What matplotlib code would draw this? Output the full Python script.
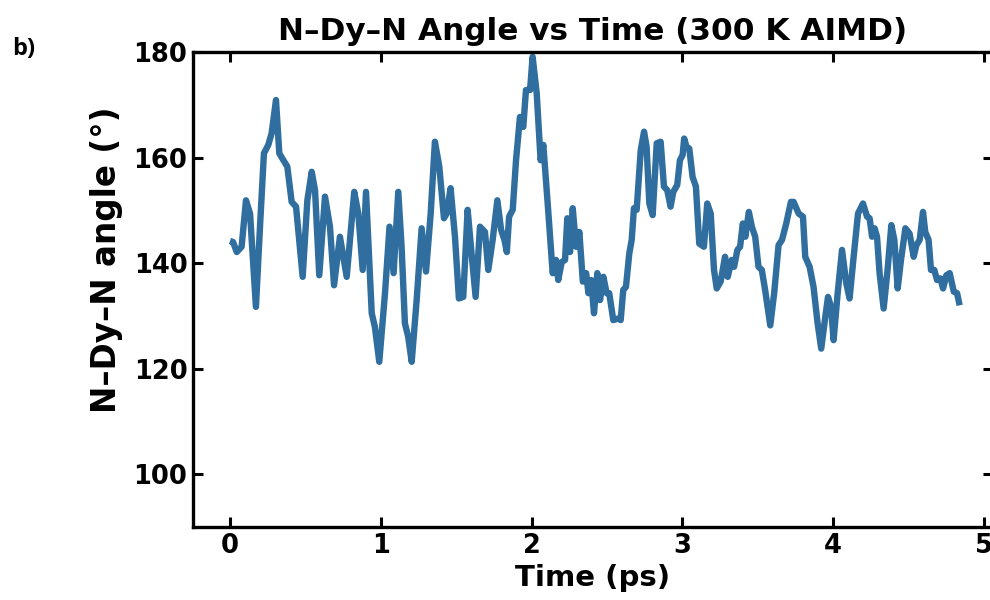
import numpy as np
import matplotlib as mpl
mpl.use('Agg')
import matplotlib.pyplot as plt

# N-Dy-N angle trajectory
time_ps = [0.000, 0.020, 0.045, 0.077, 0.106, 0.133, 0.172, 0.199, 0.225, 0.254,
           0.276, 0.305, 0.327, 0.354, 0.380, 0.409, 0.438, 0.482, 0.513, 0.542,
           0.564, 0.592, 0.630, 0.663, 0.690, 0.729, 0.774, 0.824, 0.851, 0.880,
           0.902, 0.940, 0.961, 0.990, 1.028, 1.058, 1.085, 1.116, 1.138, 1.160,
           1.182, 1.205, 1.238, 1.271, 1.300, 1.331, 1.359, 1.388, 1.419, 1.437,
           1.463, 1.492, 1.518, 1.547, 1.576, 1.602, 1.629, 1.658, 1.691, 1.713,
           1.742, 1.773, 1.798, 1.820, 1.836, 1.851, 1.875, 1.897, 1.923, 1.945,
           1.963, 1.990, 2.007, 2.034, 2.060, 2.078, 2.111, 2.140, 2.162, 2.177,
           2.200, 2.222, 2.237, 2.255, 2.273, 2.295, 2.317, 2.340, 2.362, 2.377,
           2.395, 2.414, 2.436, 2.454, 2.476, 2.498, 2.515, 2.542, 2.575, 2.591,
           2.608, 2.626, 2.648, 2.664, 2.679, 2.697, 2.724, 2.746, 2.763, 2.781,
           2.803, 2.830, 2.856, 2.878, 2.900, 2.922, 2.940, 2.966, 2.984, 3.002,
           3.012, 3.028, 3.046, 3.068, 3.090, 3.112, 3.143, 3.165, 3.188, 3.210,
           3.228, 3.254, 3.283, 3.301, 3.327, 3.343, 3.365, 3.383, 3.401, 3.418,
           3.441, 3.461, 3.483, 3.505, 3.527, 3.549, 3.583, 3.609, 3.638, 3.661,
           3.689, 3.720, 3.738, 3.771, 3.800, 3.815, 3.844, 3.870, 3.897, 3.921,
           3.948, 3.966, 3.986, 4.003, 4.030, 4.059, 4.087, 4.109, 4.136, 4.165,
           4.198, 4.225, 4.242, 4.258, 4.275, 4.291, 4.308, 4.335, 4.361, 4.386,
           4.406, 4.428, 4.450, 4.479, 4.507, 4.534, 4.552, 4.574, 4.596, 4.611,
           4.633, 4.649, 4.671, 4.689, 4.711, 4.729, 4.751, 4.773, 4.800, 4.822,
           4.839]
angle_deg = [144.2, 144.0, 142.1, 143.1, 151.9, 149.4, 131.7, 146.9, 160.8, 162.4,
             164.6, 170.9, 160.8, 159.5, 158.3, 151.6, 150.7, 137.4, 151.9, 157.3,
             153.8, 137.7, 152.6, 146.9, 135.8, 145.0, 137.4, 153.5, 149.4, 138.7,
             153.5, 130.5, 127.9, 121.3, 134.3, 146.9, 138.1, 153.5, 143.1, 128.6,
             126.0, 121.3, 133.0, 146.6, 138.4, 149.4, 163.0, 158.3, 148.5, 149.4,
             154.2, 145.0, 133.3, 133.6, 150.1, 141.8, 133.6, 146.9, 145.9, 138.7,
             144.4, 151.9, 146.3, 144.4, 142.1, 148.8, 150.1, 159.5, 167.7, 165.8,
             172.8, 172.8, 179.1, 172.2, 159.5, 162.4, 149.7, 138.1, 140.6, 136.8,
             140.2, 140.6, 148.5, 142.1, 150.4, 143.1, 145.9, 136.5, 138.1, 134.3,
             136.8, 130.5, 138.1, 133.0, 137.4, 134.3, 134.3, 129.2, 129.5, 129.2,
             134.9, 135.5, 141.8, 144.4, 150.4, 150.1, 161.4, 164.9, 162.0, 151.3,
             149.1, 162.7, 163.0, 154.5, 153.8, 150.7, 153.5, 154.8, 159.5, 160.5,
             163.6, 162.0, 161.7, 156.3, 154.5, 143.7, 143.1, 151.3, 149.4, 138.7,
             135.2, 136.5, 141.2, 137.4, 140.6, 139.3, 142.5, 143.1, 147.5, 145.0,
             149.7, 146.9, 145.0, 139.3, 138.7, 134.9, 128.2, 134.3, 143.4, 144.4,
             147.5, 151.6, 151.6, 149.4, 148.8, 141.2, 139.3, 135.5, 128.6, 123.8,
             129.8, 133.6, 131.7, 125.4, 134.3, 142.5, 136.2, 133.3, 141.2, 149.4,
             151.3, 148.8, 148.5, 145.0, 146.6, 145.0, 138.1, 131.4, 138.7, 147.2,
             144.4, 135.2, 140.6, 146.6, 145.6, 141.2, 143.4, 144.4, 149.7, 145.9,
             144.4, 138.7, 138.7, 136.8, 137.1, 135.2, 137.7, 138.1, 134.6, 134.3,
             132.0]

x_ticks = [0, 1, 2, 3, 4, 5]
y_ticks = [100, 120, 140, 160, 180]

plt.rcParams['font.family'] = 'DejaVu Sans'
plt.rcParams['font.weight'] = 'bold'

fig = plt.figure(figsize=(9.9, 6.0), dpi=100)
ax = fig.add_axes([0.195, 0.1217, 0.808, 0.7916])

ax.plot(time_ps, angle_deg, color='#2f6e9e', lw=4.6,
        solid_joinstyle='round', solid_capstyle='butt')

ax.set_xlim(-0.245, 5.06)
ax.set_ylim(90, 180)
ax.set_xticks(x_ticks)
ax.set_yticks(y_ticks)
ax.tick_params(direction='in', length=7, width=2.2, top=True, right=True,
               labelsize=18.5, pad=4)
for lab in ax.get_xticklabels() + ax.get_yticklabels():
    lab.set_fontweight('bold')
for sp in ax.spines.values():
    sp.set_linewidth(2.4)

ax.set_xlabel('Time (ps)', fontsize=21, fontweight='bold', labelpad=4)
ax.set_ylabel('N–Dy–N angle (°)', fontsize=23.5, fontweight='bold')
ax.yaxis.set_label_coords(-0.088, 0.562)
ax.set_title('N–Dy–N Angle vs Time (300 K AIMD)', fontsize=22.4,
             fontweight='bold', pad=9)

fig.text(0.012, 0.908, 'b)', fontsize=17, fontweight='bold',
         family=['Open Sans', 'DejaVu Sans'], va='baseline')

fig.savefig('out.png', dpi=100)
